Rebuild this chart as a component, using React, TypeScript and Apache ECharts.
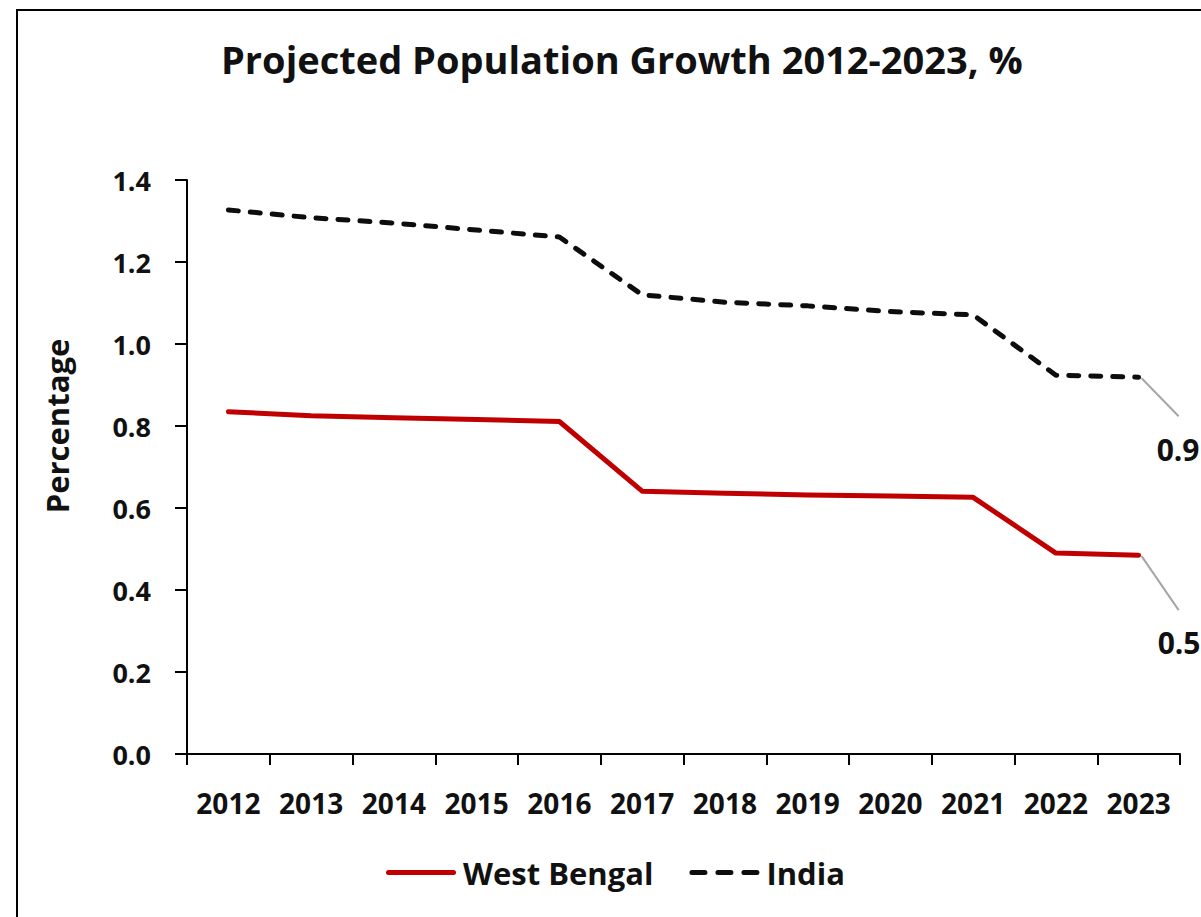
import React, { useEffect, useRef } from "react";
import * as echarts from "echarts";

const years = ["2012", "2013", "2014", "2015", "2016", "2017", "2018", "2019", "2020", "2021", "2022", "2023"];
const westBengal = [0.835, 0.825, 0.82, 0.816, 0.811, 0.641, 0.636, 0.632, 0.629, 0.626, 0.49, 0.485];
const india = [1.327, 1.308, 1.295, 1.278, 1.261, 1.12, 1.102, 1.093, 1.079, 1.071, 0.924, 0.919];
const yMin = 0;
const yMax = 1.4;
const yStep = 0.2;

const FONT = "'Open Sans', 'DejaVu Sans', sans-serif";

export default function App() {
  const ref = useRef<HTMLDivElement>(null);

  useEffect(() => {
    if (!ref.current) return;
    const chart = echarts.init(ref.current, undefined, { renderer: "svg" });
    const last = years.length - 1;
    chart.setOption({
      animation: false,
      backgroundColor: "#ffffff",
      title: {
        text: "Projected Population Growth 2012-2023, %",
        left: 216,
        top: 35,
        textStyle: { fontFamily: FONT, fontSize: 38, fontWeight: "bold", color: "#111" },
      },
      grid: { left: 187, right: 21, top: 180, bottom: 163 },
      legend: {
        left: 381,
        top: 852,
        itemWidth: 70,
        itemHeight: 6,
        itemGap: 36,
        textStyle: { fontFamily: FONT, fontSize: 31, fontWeight: "bold", color: "#111", padding: [0, 0, 0, 2] },
        data: [
          { name: "West Bengal", icon: "path://M2.5,0 H67.5 A2.5,2.5 0 0 1 67.5,5 H2.5 A2.5,2.5 0 0 1 2.5,0 Z" },
          {
            name: "India",
            icon: "path://M2.5,0 H15.5 A2.5,2.5 0 0 1 15.5,5 H2.5 A2.5,2.5 0 0 1 2.5,0 Z M28.5,0 H41.5 A2.5,2.5 0 0 1 41.5,5 H28.5 A2.5,2.5 0 0 1 28.5,0 Z M54.5,0 H67.5 A2.5,2.5 0 0 1 67.5,5 H54.5 A2.5,2.5 0 0 1 54.5,0 Z",
          },
        ],
      },
      xAxis: {
        type: "category",
        data: years,
        boundaryGap: true,
        axisLine: { lineStyle: { color: "#000", width: 2 } },
        axisTick: { show: true, interval: 0, length: 11, lineStyle: { color: "#000", width: 2 } },
        axisLabel: { interval: 0, fontFamily: FONT, fontSize: 28, fontWeight: "bold", color: "#111", margin: 35 },
        splitLine: { show: false },
      },
      yAxis: {
        type: "value",
        min: yMin,
        max: yMax,
        interval: yStep,
        axisLine: { show: true, lineStyle: { color: "#000", width: 2 } },
        axisTick: { show: true, length: 12, lineStyle: { color: "#000", width: 2 } },
        axisLabel: {
          fontFamily: FONT,
          fontSize: 27,
          fontWeight: "bold",
          color: "#111",
          margin: 36,
          formatter: (v: number) => v.toFixed(1),
        },
        splitLine: { show: false },
      },
      series: [
        {
          name: "West Bengal",
          type: "line",
          data: westBengal,
          symbol: "none",
          color: "#c00000",
          lineStyle: { color: "#c00000", width: 5, cap: "round", join: "round" },
        },
        {
          name: "India",
          type: "line",
          data: india,
          symbol: "none",
          color: "#0d0d0d",
          lineStyle: { color: "#0d0d0d", width: 5, type: [10, 12], cap: "round", join: "round" },
        },
      ],
    });

    const pI = chart.convertToPixel({ xAxisIndex: 0, yAxisIndex: 0 }, [last, india[last]]) as number[];
    const pW = chart.convertToPixel({ xAxisIndex: 0, yAxisIndex: 0 }, [last, westBengal[last]]) as number[];

    chart.setOption({
      graphic: [
        {
          type: "rect",
          shape: { x: 17, y: 10, width: 1300, height: 1000 },
          style: { fill: "none", stroke: "#000", lineWidth: 2 },
          silent: true,
        },
        {
          type: "text",
          x: 57,
          y: 426,
          rotation: Math.PI / 2,
          style: {
            text: "Percentage",
            fontFamily: FONT,
            fontSize: 31,
            fontWeight: "bold",
            fill: "#111",
            align: "center",
            verticalAlign: "middle",
          },
        },
        {
          type: "line",
          shape: { x1: pI[0] + 3, y1: pI[1] + 1, x2: pI[0] + 40, y2: pI[1] + 39 },
          style: { stroke: "#a6a6a6", lineWidth: 2 },
        },
        {
          type: "text",
          x: pI[0] + 18,
          y: pI[1] + 72,
          style: {
            text: india[last].toFixed(1),
            fontFamily: FONT,
            fontSize: 30,
            fontWeight: "bold",
            fill: "#111",
            align: "left",
            verticalAlign: "middle",
          },
        },
        {
          type: "line",
          shape: { x1: pW[0] + 3, y1: pW[1] + 1, x2: pW[0] + 40, y2: pW[1] + 55 },
          style: { stroke: "#a6a6a6", lineWidth: 2 },
        },
        {
          type: "text",
          x: pW[0] + 19,
          y: pW[1] + 87,
          style: {
            text: westBengal[last].toFixed(1),
            fontFamily: FONT,
            fontSize: 30,
            fontWeight: "bold",
            fill: "#111",
            align: "left",
            verticalAlign: "middle",
          },
        },
      ],
    });

    return () => chart.dispose();
  }, []);

  return (
    <div
      ref={ref}
      style={{ position: "absolute", left: 0, top: 0, width: 1201, height: 917 }}
    />
  );
}
